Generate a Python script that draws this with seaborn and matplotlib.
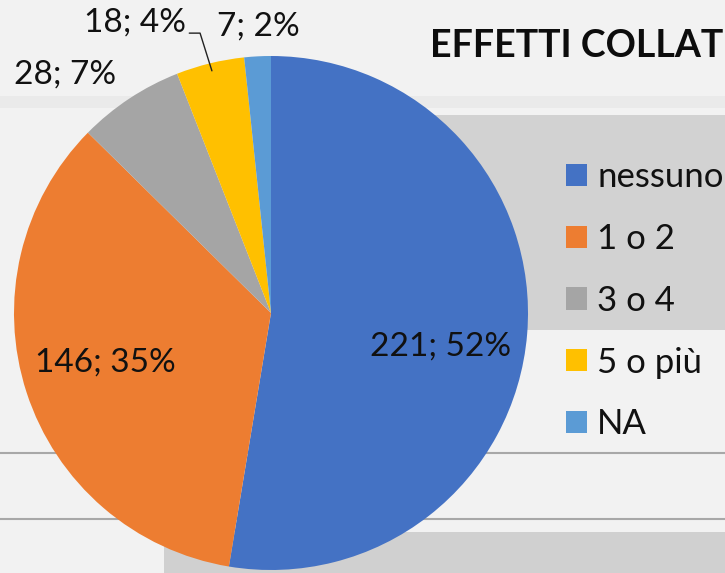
import matplotlib
matplotlib.use("Agg")
import matplotlib.pyplot as plt
import seaborn as sns
import numpy as np
from matplotlib.patches import Rectangle

categories = ["nessuno", "1 o 2", "3 o 4", "5 o più", "NA"]
counts = [221, 146, 28, 18, 7]
percents = [52, 35, 7, 4, 2]
colors = ["#4472C4", "#ED7D31", "#A5A5A5", "#FFC000", "#5B9BD5"]
title = "EFFETTI COLLATERALI"

sns.set_theme(style="white")
plt.rcParams["font.family"] = ["Lato", "DejaVu Sans"]

W, H = 725, 573
fig = plt.figure(figsize=(W / 100, H / 100), dpi=100)
fig.patch.set_facecolor("#f2f2f2")

def fx(x):
    return x / W

def fy(y):
    return 1 - y / H

# background decoration (approximate)
bg = [
    ((0, 96, 725, 108), "#eaeaea"),
    ((300, 115, 725, 330), "#d2d2d2"),
    ((164, 532, 725, 573), "#d0d0d0"),
]
for (x0, y0, x1, y1), col in bg:
    fig.patches.append(Rectangle((fx(x0), fy(y1)), (x1 - x0) / W, (y1 - y0) / H,
                                 transform=fig.transFigure, facecolor=col,
                                 edgecolor="none", zorder=-5))
for yy in (453, 519):
    fig.lines.append(plt.Line2D([0, 1], [fy(yy), fy(yy)], transform=fig.transFigure,
                                color="#a8a8a8", lw=1.5, zorder=-4))

cx, cy, R = 271, 313, 257
ax = fig.add_axes([fx(cx - R), fy(cy + R), 2 * R / W, 2 * R / H])
ax.set_zorder(1)
ax.set_facecolor("none")
wedges, _ = ax.pie(counts, colors=colors, startangle=90, counterclock=False,
                   radius=1.0, wedgeprops=dict(linewidth=0))
ax.set_xlim(-1, 1)
ax.set_ylim(-1, 1)
ax.set_aspect("equal")
ax.axis("off")

# label positions (data coords, radius 1 = pie radius)
label_pos = [(0.658, -0.132), (-0.646, -0.191), (-0.800, 0.926),
             (-0.529, 1.132), (-0.051, 1.113)]
for (lx, ly), c, p in zip(label_pos, counts, percents):
    ax.text(lx, ly, f"{c}; {p}%", ha="center", va="center", fontsize=24,
            color="#111111", clip_on=False)

# leader line for the "5 o più" label
w = wedges[3]
mid = np.deg2rad((w.theta1 + w.theta2) / 2)
ex, ey = 0.97 * np.cos(mid), 0.97 * np.sin(mid)
ax.plot([-0.318, -0.276, ex], [1.089, 1.089, ey], color="#222222", lw=1,
        clip_on=False)

fig.text(fx(430), fy(46), title, fontsize=27, fontweight="bold",
         ha="left", va="center", color="#0d0d0d", zorder=3)

leg = fig.legend(wedges, categories, loc="upper left",
                 bbox_to_anchor=(fx(566), fy(161)), frameon=False,
                 fontsize=25, handlelength=0.6, handleheight=0.6,
                 handletextpad=0.3, labelspacing=0.86, borderpad=0,
                 borderaxespad=0)
leg.set_zorder(3)
for t in leg.get_texts():
    t.set_color("#111111")

fig.savefig("out.png", dpi=100, facecolor=fig.get_facecolor())
